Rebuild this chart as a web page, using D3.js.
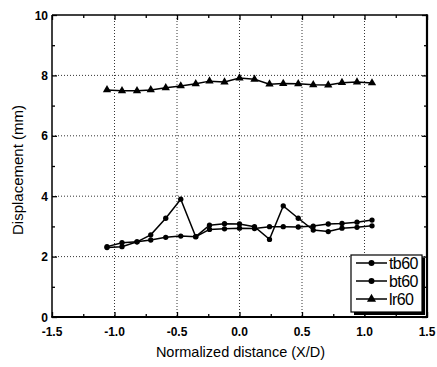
<!DOCTYPE html>
<html><head><meta charset="utf-8">
<script src="https://cdn.jsdelivr.net/npm/d3@7"></script>
<style>
html,body{margin:0;padding:0;background:#fff;}
svg{display:block;font-family:Arial,"Liberation Sans",Helvetica,sans-serif;}
</style></head>
<body><svg id="c" width="437" height="367"></svg>
<script>
const xPos = [-1.06,-0.94,-0.82,-0.71,-0.59,-0.47,-0.35,-0.24,-0.12,0,0.12,0.24,0.35,0.47,0.59,0.71,0.82,0.94,1.06];
const tb60 = [2.33,2.46,2.49,2.72,3.27,3.90,2.66,3.04,3.09,3.08,2.99,2.57,3.68,3.27,2.88,2.83,2.94,2.97,3.02];
const bt60 = [2.30,2.33,2.49,2.55,2.64,2.68,2.66,2.90,2.92,2.94,2.93,2.99,2.99,2.98,3.01,3.08,3.10,3.14,3.21];
const lr60 = [7.52,7.49,7.49,7.52,7.59,7.65,7.72,7.81,7.78,7.91,7.87,7.71,7.73,7.72,7.69,7.68,7.76,7.78,7.75];
const xTicks = [-1.5,-1.0,-0.5,0.0,0.5,1.0,1.5];
const yTicks = [0,2,4,6,8,10];
const seriesNames = ["tb60","bt60","lr60"];
const xTitle = "Normalized distance (X/D)";
const yTitle = "Displacement (mm)";

const L=52,R=427,T=15,B=317;
const svg=d3.select("#c");
const x=d3.scaleLinear().domain([-1.5,1.5]).range([L,R]);
const y=d3.scaleLinear().domain([0,10]).range([B,T]);

// grid
const g=svg.append("g");
g.selectAll("line.gx").data(xTicks.filter(v=>v>-1.5&&v<1.5)).join("line")
 .attr("x1",d=>x(d)).attr("x2",d=>x(d)).attr("y1",T).attr("y2",B)
 .attr("stroke","#000").attr("stroke-width",0.8).attr("stroke-dasharray","1,2");
g.selectAll("line.gy").data(yTicks.filter(v=>v>0&&v<10)).join("line")
 .attr("y1",d=>y(d)).attr("y2",d=>y(d)).attr("x1",L).attr("x2",R)
 .attr("stroke","#000").attr("stroke-width",0.8).attr("stroke-dasharray","1,2");

// axes with inner ticks
const xMinor=d3.range(-1.25,1.5,0.5);
const yMinor=d3.range(1,10,2);
function axisX(sel,yy,dir){
  sel.append("g").attr("transform",`translate(0,${yy})`)
   .call(d3.axisBottom(x).tickValues(xTicks).tickSize(dir*5).tickFormat(""))
   .call(a=>a.select(".domain").remove());
  sel.append("g").attr("transform",`translate(0,${yy})`)
   .call(d3.axisBottom(x).tickValues(xMinor).tickSize(dir*3).tickFormat(""))
   .call(a=>a.select(".domain").remove());
}
function axisY(sel,xx,dir){
  sel.append("g").attr("transform",`translate(${xx},0)`)
   .call(d3.axisLeft(y).tickValues(yTicks).tickSize(dir*5).tickFormat(""))
   .call(a=>a.select(".domain").remove());
  sel.append("g").attr("transform",`translate(${xx},0)`)
   .call(d3.axisLeft(y).tickValues(yMinor).tickSize(dir*3).tickFormat(""))
   .call(a=>a.select(".domain").remove());
}
axisX(svg,B,-1); axisX(svg,T,1); axisY(svg,L,-1); axisY(svg,R,1);
svg.selectAll(".tick line").attr("stroke","#000").attr("stroke-width",1.3);

// tick labels
svg.append("g").selectAll("text").data(xTicks).join("text")
 .attr("x",d=>x(d)).attr("y",B+19).attr("text-anchor","middle")
 .attr("font-size",12).attr("font-weight","bold").text(d=>d.toFixed(1));
svg.append("g").selectAll("text").data(yTicks).join("text")
 .attr("x",L-4).attr("y",d=>y(d)+4.5).attr("text-anchor","end")
 .attr("font-size",12).attr("font-weight","bold").text(d=>d);

// frame
svg.append("line").attr("x1",L).attr("x2",R).attr("y1",T).attr("y2",T).attr("stroke","#000").attr("stroke-width",1.5);
svg.append("line").attr("x1",L).attr("x2",L).attr("y1",T).attr("y2",B).attr("stroke","#000").attr("stroke-width",1.5);
svg.append("line").attr("x1",R).attr("x2",R).attr("y1",T-0.75).attr("y2",B+1).attr("stroke","#000").attr("stroke-width",2.2);
svg.append("line").attr("x1",L-0.75).attr("x2",R+1).attr("y1",B).attr("y2",B).attr("stroke","#000").attr("stroke-width",2);

// titles
svg.append("text").attr("x",(L+R)/2+1).attr("y",357).attr("text-anchor","middle")
 .attr("font-size",14.5).text(xTitle);
svg.append("text").attr("transform",`translate(23,${(T+B)/2+4}) rotate(-90)`).attr("text-anchor","middle")
 .attr("font-size",15).text(yTitle);

// series
const data=[tb60,bt60,lr60];
const shapes=[d3.symbolCircle,d3.symbolCircle,d3.symbolTriangle];
const sizes=[22,22,30];
const line=d3.line().x((d,i)=>x(xPos[i])).y(d=>y(d));
data.forEach((s,k)=>{
  svg.append("path").datum(s).attr("d",line).attr("fill","none").attr("stroke","#000").attr("stroke-width",1.5);
  svg.append("g").selectAll("path").data(s).join("path")
   .attr("transform",(d,i)=>`translate(${x(xPos[i])},${y(d)})`)
   .attr("d",d3.symbol().type(shapes[k]).size(sizes[k])).attr("fill","#000");
});

// legend
const lg=svg.append("g");
lg.append("rect").attr("x",354).attr("y",258).attr("width",71).attr("height",57).attr("fill","#000");
lg.append("rect").attr("x",351).attr("y",255).attr("width",71).attr("height",57).attr("fill","#fff").attr("stroke","#000").attr("stroke-width",1.2);
seriesNames.forEach((n,k)=>{
  const yy=263+k*18;
  lg.append("line").attr("x1",356).attr("x2",387).attr("y1",yy).attr("y2",yy).attr("stroke","#000").attr("stroke-width",1.5);
  lg.append("path").attr("transform",`translate(371.5,${yy})`).attr("d",d3.symbol().type(shapes[k]).size(sizes[k]+6)).attr("fill","#000");
  lg.append("text").attr("x",389).attr("y",yy+6).attr("font-size",16).attr("letter-spacing",-0.6).text(n);
});
</script></body></html>
